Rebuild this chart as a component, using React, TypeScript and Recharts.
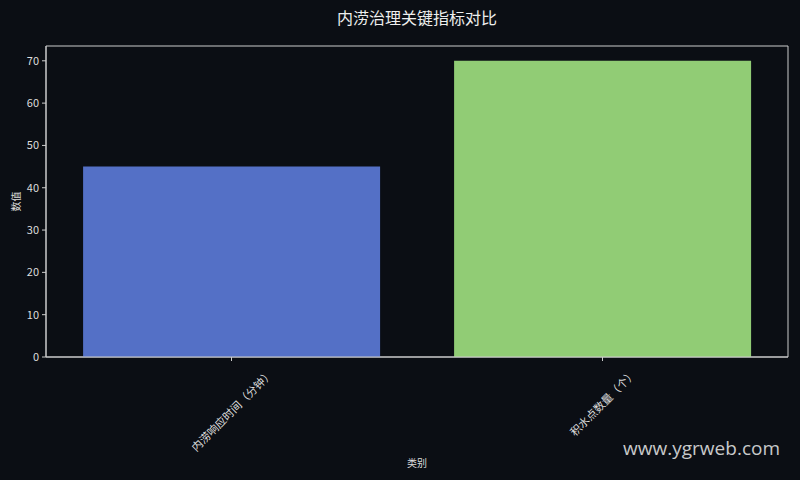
import React from "react";
import { BarChart, Bar, XAxis, YAxis, Cell, Label, ReferenceArea } from "recharts";

const categories = ["内涝响应时间（分钟）", "积水点数量（个）"];
const values = [45, 70];
const yTicks = [0, 10, 20, 30, 40, 50, 60, 70];
const yMax = 73.5;

const COLORS = ["#5470c6", "#91cc75"];
const BG = "#0b0e14";
const FG = "#dddddd";
const FONT = "'Noto Sans CJK SC', 'Noto Sans', sans-serif";

const data = categories.map((name, i) => ({ name, value: values[i] }));

// rotated tick, bbox centered horizontally on the tick and hanging below it
const RotatedTick = (props: any) => {
  const { x, y, payload } = props;
  const text = String(payload.value);
  const len = text.length * 11;
  const cy = y + 6 + len * 0.354 + 2;
  return (
    <text
      x={x}
      y={cy}
      transform={`rotate(-45, ${x}, ${cy})`}
      textAnchor="middle"
      dominantBaseline="central"
      fill={FG}
      fontSize={11}
      fontFamily={FONT}
    >
      {text}
    </text>
  );
};

export default function App() {
  return (
    <div
      style={{
        position: "absolute",
        left: 0,
        top: 0,
        width: 800,
        height: 480,
        background: BG,
        fontFamily: FONT,
      }}
    >
      <div
        style={{
          position: "absolute",
          left: 0,
          width: 834,
          top: 5,
          textAlign: "center",
          color: "#eeeeee",
          fontSize: 16,
        }}
      >
        内涝治理关键指标对比
      </div>
      <BarChart
        width={800}
        height={480}
        data={data}
        margin={{ top: 46, right: 12, left: 0, bottom: 0 }}
        barCategoryGap="10%"
      >
        <XAxis
          dataKey="name"
          height={123}
          stroke="#cccccc"
          tickSize={4}
          tick={<RotatedTick />}
          interval={0}
        >
          <Label
            content={(p: any) => (
              <text
                x={p.viewBox.x + p.viewBox.width / 2}
                y={462}
                textAnchor="middle"
                dominantBaseline="central"
                fill={FG}
                fontSize={10}
                fontFamily={FONT}
              >
                类别
              </text>
            )}
          />
        </XAxis>
        <YAxis
          width={46}
          domain={[0, yMax]}
          ticks={yTicks}
          stroke="#cccccc"
          tickSize={4}
          tickMargin={3}
          tick={{ fill: FG, fontSize: 11, fontFamily: FONT }}
        >
          <Label
            content={(p: any) => (
              <text
                x={15}
                y={p.viewBox.y + p.viewBox.height / 2}
                transform={`rotate(-90, 15, ${p.viewBox.y + p.viewBox.height / 2})`}
                textAnchor="middle"
                dominantBaseline="central"
                fill={FG}
                fontSize={10}
                fontFamily={FONT}
              >
                数值
              </text>
            )}
          />
        </YAxis>
        <Bar dataKey="value" isAnimationActive={false}>
          {data.map((d, i) => (
            <Cell key={d.name} fill={COLORS[i % COLORS.length]} />
          ))}
        </Bar>
        <ReferenceArea
          y1={0}
          y2={yMax}
          fill="none"
          fillOpacity={0}
          stroke="#cccccc"
          strokeWidth={1}
          ifOverflow="visible"
        />
      </BarChart>
      <div
        style={{
          position: "absolute",
          right: 20,
          top: 435,
          color: "rgba(255,255,255,0.78)",
          fontSize: 19,
          fontFamily: "'Open Sans', sans-serif",
        }}
      >
        www.ygrweb.com
      </div>
    </div>
  );
}
